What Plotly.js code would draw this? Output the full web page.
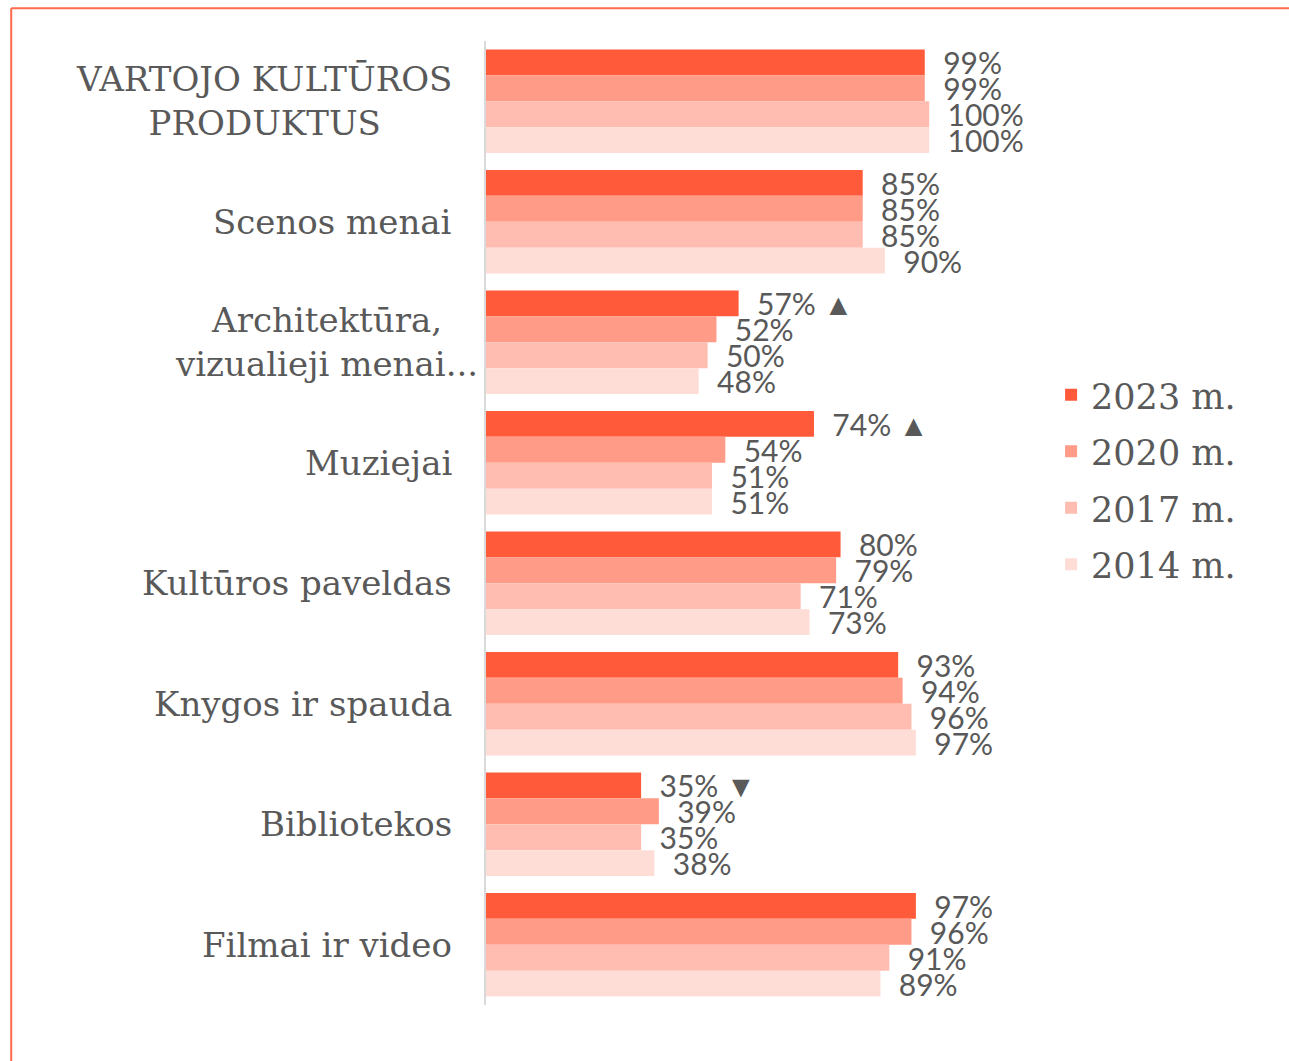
<!DOCTYPE html>
<html>
<head>
<meta charset="utf-8">
<script src="https://cdn.plot.ly/plotly-3.0.1.min.js"></script>
<style>
  html, body { margin: 0; padding: 0; background: #fff; }
  #chart { width: 1289px; height: 1061px; }
</style>
</head>
<body>
<div id="chart"></div>
<script>
// Categories (top to bottom)
const categories = [
    'VARTOJO KULTŪROS<br>PRODUKTUS',
    'Scenos menai',
    'Architektūra,<br>vizualieji menai...',
    'Muziejai',
    'Kultūros paveldas',
    'Knygos ir spauda',
    'Bibliotekos',
    'Filmai ir video',
];

// Series, in legend order
const seriesNames = ['2023 m.', '2020 m.', '2017 m.', '2014 m.'];
const values2023 = [99, 85, 57, 74, 80, 93, 35, 97];
const values2020 = [99, 85, 52, 54, 79, 94, 39, 96];
const values2017 = [100, 85, 50, 51, 71, 96, 35, 91];
const values2014 = [100, 90, 48, 51, 73, 97, 38, 89];

// Change markers shown after the 2023 value
const change2023 = ['', '', '▲', '▲', '', '', '▼', ''];

const colors = ['#FF5B3B', '#FF9B87', '#FFBDB1', '#FFDDD7'];
const textColor = '#595959';
const slabFont = "'DejaVu Serif', serif";
const valueFont = "Lato, 'Open Sans', sans-serif";

const allValues = [values2023, values2020, values2017, values2014];

const traces = allValues.map((vals, i) => ({
    type: 'bar',
    orientation: 'h',
    name: seriesNames[i],
    legendgroup: 'g' + i,
    x: vals,
    y: categories,
    marker: { color: colors[i] },
    text: vals.map((v, j) => '  ' + v + '%' + (i === 0 && change2023[j] ? ' ' + change2023[j] : '')),
    textposition: 'outside',
    constraintext: 'none',
    cliponaxis: false,
    textfont: { family: valueFont, size: 30, color: textColor },
    hoverinfo: 'skip',
}));

// Category labels as annotations so multi-line names stay centred
const annotations = categories.map((c, j) => ({
    xref: 'paper',
    yref: 'y',
    x: 0,
    y: c,
    xanchor: 'right',
    xshift: j === 2 ? -6 : -32,
    text: c,
    align: 'center',
    showarrow: false,
    font: { family: slabFont, size: 34, color: textColor },
}));

const layout = {
    width: 1289,
    height: 1061,
    margin: { l: 486, r: 249, t: 41, b: 56 },
    paper_bgcolor: '#ffffff',
    plot_bgcolor: '#ffffff',
    barmode: 'group',
    bargap: 0.14,
    bargroupgap: 0,
    showlegend: true,
    legend: {
        x: 1.02,
        y: 0.545,
        xanchor: 'left',
        yanchor: 'middle',
        traceorder: 'grouped',
        tracegroupgap: 8,
        font: { family: slabFont, size: 35, color: textColor },
        itemclick: false,
    },
    xaxis: {
        range: [0, 125],
        visible: false,
        fixedrange: true,
    },
    yaxis: {
        type: 'category',
        autorange: 'reversed',
        showticklabels: false,
        ticks: '',
        showline: true,
        linecolor: '#d9d9d9',
        linewidth: 2,
        showgrid: false,
        zeroline: false,
        fixedrange: true,
    },
    annotations: annotations,
    // Orange frame on the top and left edges
    shapes: [
        {
            type: 'line', xref: 'paper', yref: 'paper',
            x0: -0.857, x1: 1.46, y0: 1.034, y1: 1.034,
            line: { color: '#FF6A4D', width: 2 },
        },
        {
            type: 'line', xref: 'paper', yref: 'paper',
            x0: -0.857, x1: -0.857, y0: 1.034, y1: -0.06,
            line: { color: '#FF6A4D', width: 2 },
        },
    ],
};

Plotly.newPlot('chart', traces, layout, { displayModeBar: false, staticPlot: true });
</script>
</body>
</html>
